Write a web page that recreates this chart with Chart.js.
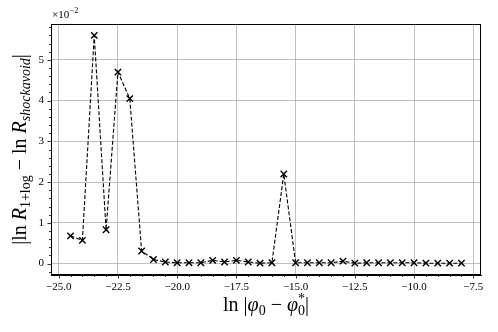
<!DOCTYPE html>
<html>
<head>
<meta charset="utf-8">
<script src="https://cdn.jsdelivr.net/npm/chart.js@4/dist/chart.umd.min.js"></script>
<style>
  html, body { margin: 0; padding: 0; background: #fff; }
  #wrap { width: 498px; height: 332px; }
</style>
</head>
<body>
<div id="wrap"><canvas id="chart" width="498" height="332"></canvas></div>
<script>
// ln|phi0 - phi0*| positions
const xValues = [-24.5, -24, -23.5, -23, -22.5, -22, -21.5, -21, -20.5, -20, -19.5, -19,
    -18.5, -18, -17.5, -17, -16.5, -16, -15.5, -15, -14.5, -14, -13.5, -13, -12.5, -12,
    -11.5, -11, -10.5, -10, -9.5, -9, -8.5, -8];
// |ln R_1+log - ln R_shockavoid|, in units of 1e-2
const yValues = [0.68, 0.57, 5.60, 0.83, 4.70, 4.05, 0.31, 0.10, 0.04, 0.02, 0.02, 0.02,
    0.08, 0.04, 0.08, 0.04, 0.01, 0.02, 2.20, 0.02, 0.02, 0.02, 0.02, 0.06, 0.01, 0.02,
    0.02, 0.02, 0.02, 0.02, 0.01, 0.01, 0.01, 0.01];
const xTicks = [-25, -22.5, -20, -17.5, -15, -12.5, -10, -7.5];
const yTicks = [0, 1, 2, 3, 4, 5];

const serif = '"Liberation Serif", "DejaVu Serif", serif';
const fmtMinus = (s) => s.replace('-', '\u2212');

// text pieces: t text, s size, dy baseline shift, it italic, keep = don't advance (stacked scripts)
function drawParts(ctx, parts, cx, baseY) {
    const fontOf = (p) => (p.it ? 'italic ' : '') + p.s + 'px ' + serif;
    let total = 0;
    parts.forEach(p => {
        ctx.font = fontOf(p);
        if (!p.keep) total += ctx.measureText(p.t).width;
    });
    let x = cx - total / 2;
    ctx.textAlign = 'left';
    parts.forEach(p => {
        ctx.font = fontOf(p);
        ctx.fillText(p.t, x, baseY + (p.dy || 0));
        if (!p.keep) x += ctx.measureText(p.t).width;
    });
}

// draws minor/major tick marks, axis titles and the offset text
const decorations = {
    id: 'decorations',
    afterDraw(chart) {
        const ctx = chart.ctx;
        const { left, right, top, bottom } = chart.chartArea;
        const xs = chart.scales.x;
        const ys = chart.scales.y;
        ctx.save();
        ctx.strokeStyle = '#000';
        ctx.lineWidth = 0.8;
        ctx.beginPath();
        for (let v = -25; v <= -7.5 + 1e-9; v += 0.5) {
            const px = Math.round(xs.getPixelForValue(v)) + 0.5;
            const major = Math.abs(v / 2.5 - Math.round(v / 2.5)) < 1e-9;
            ctx.moveTo(px, bottom);
            ctx.lineTo(px, bottom + (major ? 3.5 : 2));
        }
        for (let v = -0.2; v <= 5.8 + 1e-9; v += 0.2) {
            const py = Math.round(ys.getPixelForValue(v)) + 0.5;
            const major = Math.abs(v - Math.round(v)) < 1e-9;
            ctx.moveTo(left, py);
            ctx.lineTo(left - (major ? 3.5 : 2), py);
        }
        ctx.stroke();

        ctx.fillStyle = '#000';
        ctx.textBaseline = 'alphabetic';

        // offset text x10^-2
        ctx.textAlign = 'left';
        ctx.font = '11px ' + serif;
        ctx.fillText('\u00d710', left + 1, top - 6);
        const w = ctx.measureText('\u00d710').width;
        ctx.font = '8px ' + serif;
        ctx.fillText('\u22122', left + 1 + w + 0.5, top - 11);

        // x title: ln |phi_0 - phi_0^*|
        drawParts(ctx, [
            { t: 'ln |', s: 20 }, { t: '\u03c6', s: 20, it: true }, { t: '0', s: 14, dy: 4 },
            { t: ' \u2212 ', s: 20 }, { t: '\u03c6', s: 20, it: true },
            { t: '*', s: 14, dy: -8, keep: true }, { t: '0', s: 14, dy: 4 }, { t: '|', s: 20 }
        ], (left + right) / 2, 311);

        // y title: |ln R_{1+log} - ln R_{shockavoid}|
        ctx.save();
        ctx.translate(26, (top + bottom) / 2);
        ctx.rotate(-Math.PI / 2);
        drawParts(ctx, [
            { t: '|ln ', s: 20 }, { t: 'R', s: 20, it: true }, { t: '1+log', s: 14, dy: 4 },
            { t: ' \u2212 ln ', s: 20 }, { t: 'R', s: 20, it: true },
            { t: 'shockavoid', s: 14, dy: 4, it: true }, { t: '|', s: 20 }
        ], 0, 0);
        ctx.restore();
        ctx.restore();
    }
};

const ctx = document.getElementById('chart');
new Chart(ctx, {
    type: 'line',
    data: {
        datasets: [{
            data: xValues.map((x, i) => ({ x: x, y: yValues[i] })),
            borderColor: '#000',
            borderWidth: 1.1,
            borderDash: [4, 2],
            pointStyle: 'crossRot',
            pointRadius: 4.5,
            pointBorderWidth: 1.4,
            pointBorderColor: '#000',
            fill: false,
            tension: 0,
        }],
    },
    options: {
        responsive: false,
        animation: false,
        layout: { padding: { left: 0, right: 17, top: 24, bottom: 0 } },
        plugins: { legend: { display: false }, tooltip: { enabled: false } },
        scales: {
            x: {
                type: 'linear',
                min: -25.325,
                max: -7.175,
                afterBuildTicks: (s) => { s.ticks = xTicks.map(v => ({ value: v })); },
                afterFit: (s) => { s.height = 57; },
                ticks: {
                    callback: (v) => fmtMinus(v.toFixed(1)),
                    font: { family: serif, size: 11 },
                    color: '#000',
                    padding: 6,
                    maxRotation: 0,
                    autoSkip: false,
                },
                grid: { color: '#b0b0b0', lineWidth: 0.8, drawTicks: false },
                border: { color: '#000', width: 1 },
            },
            y: {
                min: -0.28,
                max: 5.88,
                afterBuildTicks: (s) => { s.ticks = yTicks.map(v => ({ value: v })); },
                afterFit: (s) => { s.width = 51; },
                ticks: {
                    callback: (v) => String(v),
                    font: { family: serif, size: 11 },
                    color: '#000',
                    padding: 7,
                },
                grid: { color: '#b0b0b0', lineWidth: 0.8, drawTicks: false },
                border: { color: '#000', width: 1 },
            },
        },
    },
    plugins: [decorations, {
        id: 'box',
        afterDatasetsDraw(chart) {
            const c = chart.ctx;
            const a = chart.chartArea;
            c.save();
            c.strokeStyle = '#000';
            c.lineWidth = 1;
            c.strokeRect(a.left + 0.5, a.top + 0.5, a.right - a.left - 1, a.bottom - a.top - 1);
            c.restore();
        }
    }],
});
</script>
</body>
</html>
